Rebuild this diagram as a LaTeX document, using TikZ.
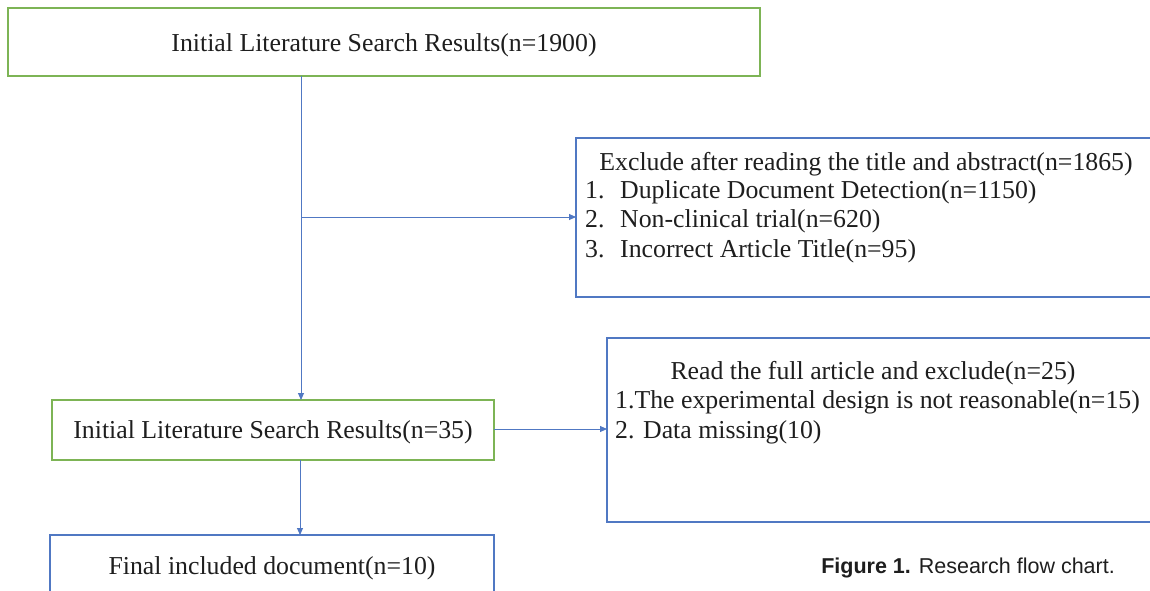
\documentclass[tikz,border=0pt]{standalone}
\usepackage{fontspec}
\setmainfont{Liberation Serif}
\newfontfamily\capfont{Liberation Sans}
\usetikzlibrary{arrows.meta}
\definecolor{boxgreen}{RGB}{125,180,85}
\definecolor{boxblue}{RGB}{80,120,195}
\definecolor{txt}{RGB}{30,30,30}
\tikzset{
  gbox/.style={draw=boxgreen, line width=1.8pt},
  bbox/.style={draw=boxblue, line width=1.5pt},
  conn/.style={draw=boxblue, line width=0.9pt},
  arr/.style={conn, -{Triangle[length=7pt,width=6pt]}},
  lbl/.style={font=\fontsize{25.8}{30}\selectfont, text=txt, inner sep=0pt},
}
\begin{document}
\begin{tikzpicture}[x=1pt,y=-1pt]
\useasboundingbox (0,0) rectangle (1150,590);
\clip (0,0) rectangle (1150,590);
% top box
\draw[gbox] (8,8) rectangle (760,76);
\coordinate (b1s) at (301,76);
\node[lbl, anchor=base] (t1) at (384,51) {Initial Literature Search Results(n=1900)};

% exclusion box 1
\draw[bbox] (576,138) rectangle (1160,297);
\coordinate (b3w) at (576,217);
\node[lbl, anchor=base] (t3a) at (866,170) {Exclude after reading the title and abstract(n=1865)};
\node[lbl, anchor=base west] (n31) at (585,198) {1.};
\node[lbl, anchor=base west] (t31) at (620,198) {Duplicate Document Detection(n=1150)};
\node[lbl, anchor=base west] (n32) at (585,227) {2.};
\node[lbl, anchor=base west] (t32) at (620,227) {Non-clinical trial(n=620)};
\node[lbl, anchor=base west] (n33) at (585,257) {3.};
\node[lbl, anchor=base west] (t33) at (620,257) {Incorrect Article Title(n=95)};

% middle box
\draw[gbox] (52,400) rectangle (494,460);
\coordinate (b2n) at (301,400);
\coordinate (b2e) at (494,429);
\coordinate (b2s) at (300,460);
\node[lbl, anchor=base] (t2) at (273,438) {Initial Literature Search Results(n=35)};

% exclusion box 2
\draw[bbox] (607,338) rectangle (1160,522);
\coordinate (b4w) at (607,429);
\node[lbl, anchor=base] (t4a) at (873,379) {Read the full article and exclude(n=25)};
\node[lbl, anchor=base west] (t41) at (615,408) {1.The experimental design is not reasonable(n=15)};
\node[lbl, anchor=base west] (t42) at (615,438) {2. Data missing(10)};

% final box
\draw[bbox] (50,535) rectangle (494,600);
\coordinate (b5n) at (300,535);
\node[lbl, anchor=base] (t5) at (272,574) {Final included document(n=10)};

% connectors
\draw[arr] (b1s) -- (b2n);
\draw[arr] (b1s |- b3w) -- (b3w);
\draw[arr] (b2e) -- (b4w);
\draw[arr] (b2s) -- (b5n);

% caption
\node[font=\capfont\fontsize{21.5}{25}\selectfont, text=txt, inner sep=0pt, anchor=base east] (cap) at (1115,573) {\textbf{Figure 1.} Research flow chart.};
\end{tikzpicture}
\end{document}
